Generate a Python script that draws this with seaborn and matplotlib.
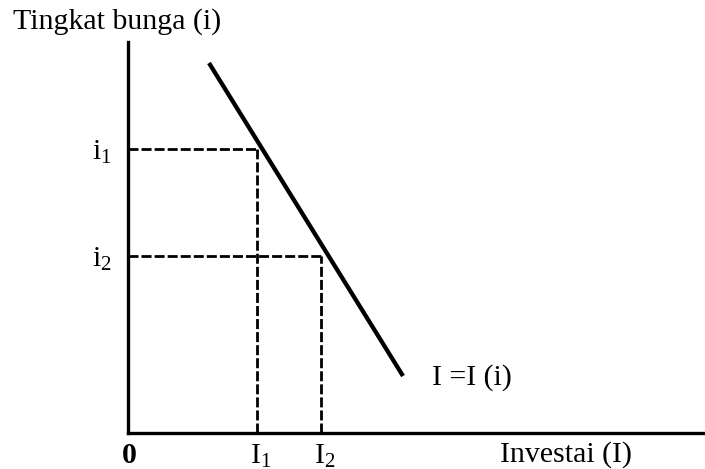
"""
Kurva investasi: tingkat bunga vs investasi
"""

import numpy as np
import matplotlib
matplotlib.use("Agg")
import matplotlib.pyplot as plt
import pandas as pd
import seaborn as sns

sns.set_style("ticks")
plt.rcParams['font.family'] = ['Liberation Serif', 'DejaVu Serif']
plt.rcParams['mathtext.fontset'] = 'custom'
plt.rcParams['mathtext.rm'] = 'Liberation Serif'
plt.rcParams['mathtext.it'] = 'Liberation Serif:italic'
plt.rcParams['text.color'] = 'black'

# data (pixel-like units, origin at the axes corner)
line_x = [81, 275]
line_y = [370, 57]
rates = [284, 177]          # i1, i2
invest = [129, 193]         # I1, I2
rate_labels = [r"i$_{1}$", r"i$_{2}$"]
invest_labels = [r"I$_{1}$", r"I$_{2}$"]

df = pd.DataFrame({"I": line_x, "i": line_y})

fig = plt.figure(figsize=(7.05, 4.69), dpi=100)
ax = fig.add_axes([128/705, 36/469, 577/705, 391/469])

sns.lineplot(data=df, x="I", y="i", color="black", linewidth=3.1, ax=ax,
             solid_capstyle="butt")

dash = (0, (3.6, 1.1))
for r, inv in zip(rates, invest):
    ax.plot([0, inv], [r, r], color="black", lw=2, linestyle=dash)
    ax.plot([inv, inv], [0, r], color="black", lw=2, linestyle=dash)

ax.set(xlim=(0, 577), ylim=(0, 391), xlabel="", ylabel="")
ax.set_xticks([])
ax.set_yticks([])
sns.despine(ax=ax)
for s in ["left", "bottom"]:
    ax.spines[s].set_linewidth(2.4)
    ax.spines[s].set_color("black")

fs = 21.5
for r, lab in zip(rates, rate_labels):
    ax.annotate(lab, xy=(0, r), xytext=(-16, -3), textcoords="offset pixels",
                ha="right", va="center", fontsize=fs, color="black")
for inv, lab in zip(invest, invest_labels):
    ax.annotate(lab, xy=(inv, 0), xytext=(4, -23), textcoords="offset pixels",
                ha="center", va="center", fontsize=fs, color="black")

ax.annotate("0", xy=(0, 0), xytext=(1, -22), textcoords="offset pixels",
            ha="center", va="center", fontsize=fs, fontweight="bold", color="black")
ax.annotate("Investai (I)", xy=(372, 0), xytext=(0, -22), textcoords="offset pixels",
            ha="left", va="center", fontsize=fs, color="black")
ax.annotate("I =I (i)", xy=(line_x[1], line_y[1]), xytext=(29, -2),
            textcoords="offset pixels", ha="left", va="center", fontsize=fs,
            color="black")

fig.text(13/705, 1 - 22/469, "Tingkat bunga (i)", ha="left", va="center",
         fontsize=fs, color="black")

plt.savefig("out.png", dpi=100)
